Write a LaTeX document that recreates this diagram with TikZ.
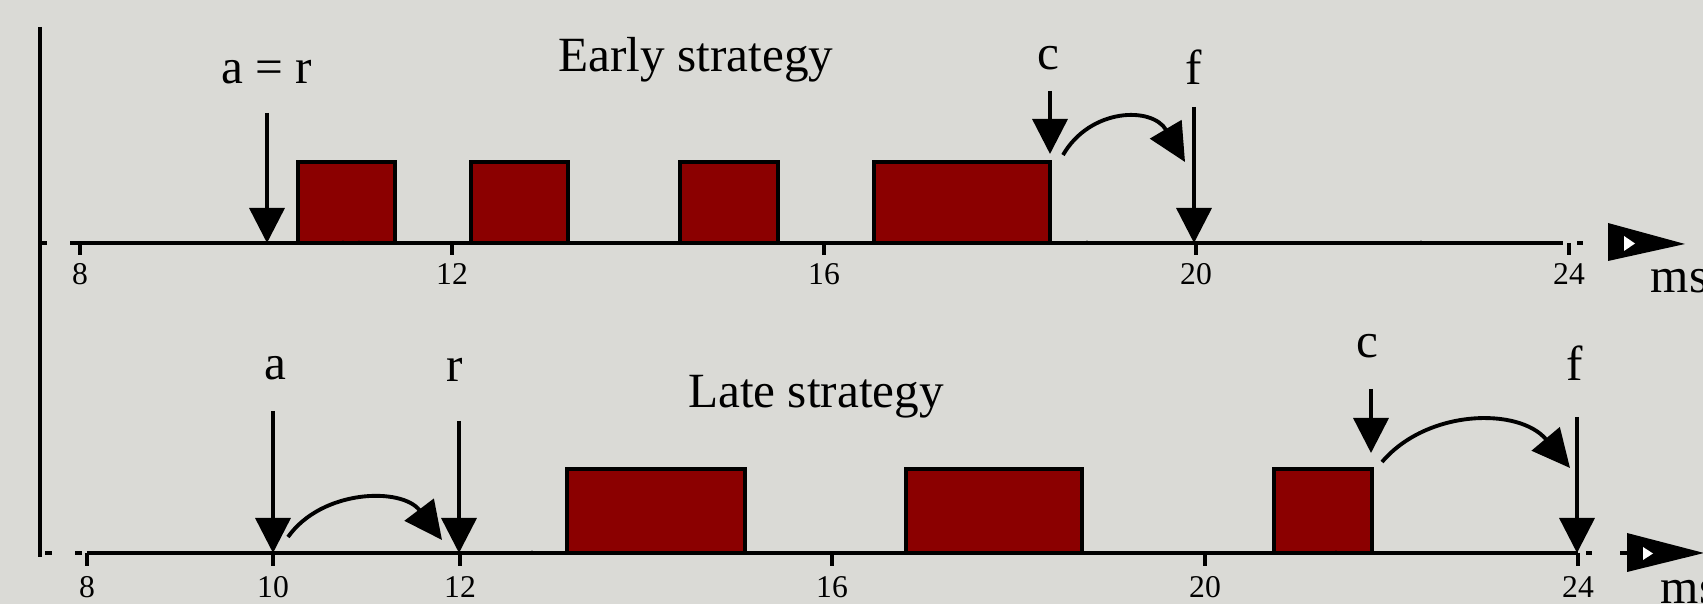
\documentclass[tikz,border=0pt]{standalone}
\usepackage{fontspec}
\setmainfont{Liberation Serif}
\usetikzlibrary{arrows.meta}
\definecolor{bg}{RGB}{218,218,214}
\definecolor{boxred}{RGB}{139,0,0}
\begin{document}
\begin{tikzpicture}[x=0.01cm,y=-0.01cm,
  axisline/.style={line width=0.95pt},
  tickmark/.style={line width=1pt},
  darr/.style={line width=1pt,-{Triangle[width=0.35cm,length=0.35cm]}},
  carr/.style={line width=1.1pt,-{Triangle[width=0.36cm,length=0.38cm]}},
  jobbox/.style={draw=black,fill=boxred,line width=1pt},
  lbl/.style={font=\fontsize{14}{16}\selectfont,anchor=base,inner sep=0pt},
  ticklbl/.style={font=\fontsize{9}{10}\selectfont,anchor=base,inner sep=0pt},
  bigtri/.style={fill=black},
  wtri/.style={fill=white},
  speck/.style={fill=black},
]
\fill[bg] (0,0) rectangle (1703,604);
\useasboundingbox (0,0) rectangle (1703,604);

% left vertical axis
\draw[axisline] (40,27) -- (40,557);
\draw[axisline] (40,243) -- (47,243);
\draw[axisline] (45,553) -- (52,553);
\draw[axisline] (75,553) -- (82,553);

% ---------- top timeline ----------
\draw[jobbox] (298,162) rectangle (395,243);
\draw[jobbox] (471,162) rectangle (568,243);
\draw[jobbox] (680,162) rectangle (778,243);
\draw[jobbox] (874,162) rectangle (1050,243);

\draw[axisline] (70,243) -- (1563,243);
\draw[axisline] (1577,243) -- (1583,243);
\foreach \x/\t in {80/8,452/12,824/16,1196/20,1569/24}{
  \draw[tickmark] (\x,243) -- (\x,255);
  \node[ticklbl] at (\x,285) {\t};
}
\foreach \x in {343,359,1087,1421}{ \fill[speck] (\x,242) circle (1.6); }

\fill[bigtri] (1608,223) -- (1685,244) -- (1608,261) -- cycle;
\fill[wtri] (1624,236) -- (1635,243.5) -- (1624,251) -- cycle;
\node[lbl,anchor=base west] (ms1) at (1650,293) {ms};

\node[lbl] (ttl1) at (696,72) {Early strategy};
\node[lbl] (ar) at (267,84) {a = r};
\node[lbl] (c1) at (1048,70) {c};
\node[lbl] (f1) at (1194,85) {f};

\coordinate (ar0) at (267,113);
\coordinate (ar1) at (267,243);
\coordinate (c10) at (1050,91);
\coordinate (c11) at (1050,154);
\coordinate (f10) at (1194,107);
\coordinate (f11) at (1194,243);
\draw[darr] (ar0) -- (ar1);
\draw[darr] (c10) -- (c11);
\draw[darr] (f10) -- (f11);
\coordinate (cf1s) at (1063,155);
\coordinate (cf1e) at (1185,162);
\draw[carr] (cf1s) .. controls (1090,108) and (1152,106) .. (cf1e);

% ---------- bottom timeline ----------
\draw[jobbox] (567,469) rectangle (745,553);
\draw[jobbox] (906,469) rectangle (1082,553);
\draw[jobbox] (1274,469) rectangle (1372,553);

\draw[axisline] (87,553) -- (1578,553);
\draw[axisline] (1586,553) -- (1592,553);
\draw[axisline] (1620,553) -- (1627,553);
\foreach \x/\t in {87/8,273/10,460/12,832/16,1205/20,1578/24}{
  \draw[tickmark] (\x,553) -- (\x,566);
  \node[ticklbl] at (\x,598) {\t};
}
\foreach \x in {532,1336}{ \fill[speck] (\x,552) circle (1.6); }

\fill[bigtri] (1627,533) -- (1704,553) -- (1627,572) -- cycle;
\fill[wtri] (1643,547) -- (1653,553.5) -- (1643,560) -- cycle;
\node[lbl,anchor=base west] (ms2) at (1660,604) {ms};

\node[lbl] (ttl2) at (816,408) {Late strategy};
\node[lbl] (a2) at (275,380) {a};
\node[lbl] (r2) at (455,382) {r};
\node[lbl] (c2) at (1367,358) {c};
\node[lbl] (f2) at (1575,381) {f};

\coordinate (a20) at (273,411);
\coordinate (a21) at (273,553);
\coordinate (r20) at (459,421);
\coordinate (r21) at (459,553);
\coordinate (c20) at (1371,389);
\coordinate (c21) at (1371,453);
\coordinate (f20) at (1577,417);
\coordinate (f21) at (1577,553);
\draw[darr] (a20) -- (a21);
\draw[darr] (r20) -- (r21);
\draw[darr] (c20) -- (c21);
\draw[darr] (f20) -- (f21);
\coordinate (ars) at (288,537);
\coordinate (are) at (442,540);
\draw[carr] (ars) .. controls (322,489) and (402,487) .. (are);
\coordinate (cf2s) at (1382,462);
\coordinate (cf2e) at (1570,468);
\draw[carr] (cf2s) .. controls (1427,409) and (1519,407) .. (cf2e);
\end{tikzpicture}
\end{document}
